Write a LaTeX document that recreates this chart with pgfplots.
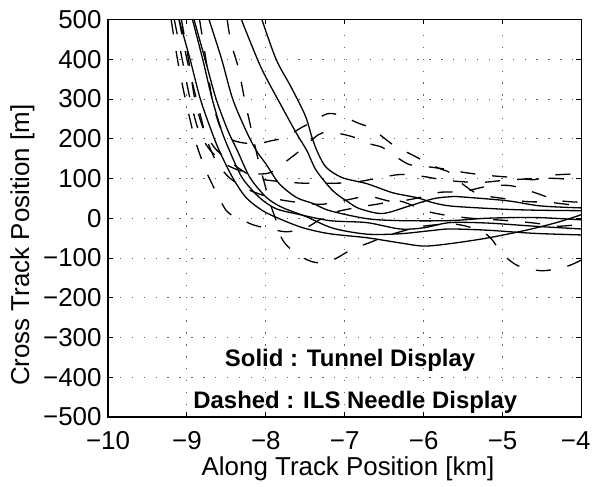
\documentclass[border=0pt]{standalone}
\usepackage{pgfplots}
\pgfplotsset{compat=1.18}
\usepackage{fontspec}
\setmainfont{Liberation Sans}
\begin{document}
\begin{tikzpicture}
\useasboundingbox (-108bp,-70bp) rectangle (484bp,417bp);
\begin{axis}[
  at={(0,0)}, anchor=south west,
  scale only axis, width=473.5bp, height=397.5bp,
  xmin=-10, xmax=-4, ymin=-500, ymax=500,
  xtick={-10,-9,-8,-7,-6,-5,-4},
  ytick={-500,-400,-300,-200,-100,0,100,200,300,400,500},
  xticklabels={−10,−9,−8,−7,−6,−5,\makebox[0pt][r]{−4\hspace{-9bp}}},
  yticklabels={−500,−400,−300,−200,−100,0,100,200,300,400,500},
  tick align=inside, major tick length=5bp,
  every tick/.style={black, line width=0.9bp},
  axis line style={line width=1.2bp},
  ticklabel style={font=\fontsize{26}{30}\selectfont},
  xticklabel style={inner sep=0pt, anchor=base, yshift=-32bp},
  yticklabel style={inner sep=0pt, anchor=east, xshift=-6.3bp},
  xlabel={Along Track Position [km]},
  ylabel={Cross Track Position [m]},
  label style={font=\fontsize{26}{30}\selectfont},
  xlabel style={at={(axis description cs:0.507,-0.148)}, anchor=base, inner sep=0pt},
  ylabel style={at={(axis description cs:-0.1668,0.432)}, anchor=base, inner sep=0pt},
  grid=major,
  grid style={black!60, line width=0.9bp, dash pattern=on 1.3bp off 10.6bp},
  solid line/.style={black, line width=1.3bp, smooth, tension=0.5},
  dashed line/.style={black, line width=1.3bp, smooth, tension=0.5, dash pattern=on 15bp off 17bp},
]
% ---- Solid : Tunnel Display ----
\addplot[solid line] coordinates {(-8.05,500)(-7.87,400)(-7.68,330)(-7.5,258)(-7.41,200)(-7.33,160)(-7.23,127)(-7.03,102)(-6.72,87)(-6.39,64)(-6.09,52)(-5.88,39)(-5.67,31)(-5.3,26)(-4.9,22)(-4.5,20)(-4,19)};
\addplot[solid line] coordinates {(-8.31,500)(-8.06,379)(-7.79,278)(-7.61,213)(-7.48,170)(-7.36,120)(-7.15,69)(-6.95,40)(-6.81,24)(-6.52,12)(-6.18,31)(-5.88,49)(-5.67,54)(-5.54,54)(-4.94,44)(-4.52,31)(-4,26)};
\addplot[solid line] coordinates {(-9.10,500)(-8.96,400)(-8.83,300)(-8.69,220)(-8.59,170)(-8.42,102)(-8.25,52)(-8.04,19)(-7.83,-1)(-7.53,-24)(-7.19,-39)(-6.72,-49)(-6.3,-62)(-6.0,-70)(-5.67,-64)(-5.2,-50)(-4.7,-30)(-4.3,-10)(-4,9)};
\addplot[solid line] coordinates {(-8.93,500)(-8.8,400)(-8.68,300)(-8.56,220)(-8.46,170)(-8.3,102)(-8.08,52)(-7.87,24)(-7.61,11)(-7.19,-6)(-6.72,-11)(-6.3,-27)(-6.0,-24)(-5.67,-11)(-5.2,-12)(-4.6,-20)(-4,-27)};
\addplot[solid line] coordinates {(-8.91,500)(-8.77,400)(-8.63,300)(-8.48,220)(-8.36,170)(-8.2,102)(-7.99,52)(-7.79,27)(-7.5,5)(-7.15,-25)(-6.72,-40)(-6.3,-39)(-5.9,-31)(-5.67,-27)(-5.2,-30)(-4.6,-38)(-4,-42)};
\addplot[solid line] coordinates {(-8.72,500)(-8.56,400)(-8.42,300)(-8.25,220)(-8.12,170)(-8.0,137)(-7.83,87)(-7.61,52)(-7.4,37)(-7.19,19)(-6.72,-1)(-6.3,-6)(-5.67,-6)(-5.2,0)(-4.6,2)(-4,-4)};
% ---- Dashed : ILS Needle Display ----
\addplot[dashed line] coordinates {(-9.2,500)(-9.12,400)(-9.02,300)(-8.9,200)(-8.78,130)(-8.69,90)(-8.5,19)(-8.31,-3)(-8.14,-18)(-7.93,-27)(-7.74,-34)(-7.5,-25)(-7.19,11)(-6.9,25)(-6.6,35)(-6.3,43)(-6.0,20)(-5.76,9)(-5.4,0)(-5.0,-5)(-4.6,-12)(-4.3,-20)(-4,-15)};
\addplot[dashed line] coordinates {(-8.84,500)(-8.76,400)(-8.68,300)(-8.58,230)(-8.45,200)(-8.3,190)(-8.1,188)(-7.93,195)(-7.76,203)(-7.55,228)(-7.42,241)(-7.22,263)(-7.04,258)(-6.85,241)(-6.66,226)(-6.49,200)(-6.34,178)(-6.15,160)(-5.98,142)(-5.8,125)(-5.67,115)(-5.5,85)(-5.3,60)(-5.0,50)(-4.7,42)(-4.4,40)(-4,30)};
\addplot[dashed line] coordinates {(-8.49,500)(-8.44,440)(-8.35,380)(-8.27,300)(-8.18,220)(-8.1,150)(-8.02,90)(-7.95,40)(-7.88,0)(-7.8,-50)(-7.7,-75)(-7.55,-97)(-7.4,-110)(-7.25,-112)(-7.1,-100)(-6.9,-77)(-6.72,-64)(-6.4,-40)(-6.0,-20)(-5.6,-15)(-5.3,-30)(-5.15,-50)(-5.0,-90)(-4.8,-120)(-4.5,-132)(-4.2,-122)(-4,-105)};
\addplot[dashed line] coordinates {(-9.16,500)(-9.06,400)(-8.96,300)(-8.85,220)(-8.7,170)(-8.5,135)(-8.25,115)(-8.0,112)(-7.85,125)(-7.73,145)(-7.6,165)(-7.4,200)(-7.28,215)(-7.07,213)(-6.87,203)(-6.68,187)(-6.52,178)(-6.33,152)(-6.18,135)(-6.0,131)(-5.67,122)(-5.48,115)(-5.2,108)(-4.9,103)(-4.6,97)(-4.4,108)(-4,112)};
\addplot[dashed line] coordinates {(-9.07,500)(-8.98,400)(-8.9,300)(-8.8,230)(-8.66,180)(-8.5,150)(-8.3,120)(-8.1,100)(-7.8,92)(-7.5,88)(-7.2,88)(-6.9,90)(-6.6,100)(-6.3,110)(-6.0,105)(-5.7,95)(-5.3,90)(-5,95)(-4.6,100)(-4.3,100)(-4,95)};
\addplot[dashed line] coordinates {(-9.1,500)(-9.0,400)(-8.88,300)(-8.75,200)(-8.62,140)(-8.45,100)(-8.2,70)(-7.9,50)(-7.6,40)(-7.3,35)(-7.0,45)(-6.7,55)(-6.39,42)(-6.1,50)(-5.8,65)(-5.5,67)(-5.2,80)(-4.9,82)(-4.6,65)(-4.3,45)(-4,40)};
% ---- annotations ----
\node[anchor=base west, inner sep=0pt, font=\fontsize{24}{28}\selectfont\bfseries] at (axis cs:-8.52,-374) {Solid : Tunnel Display};
\node[anchor=base west, inner sep=0pt, font=\fontsize{24}{28}\selectfont\bfseries] at (axis cs:-8.92,-478) {Dashed : ILS Needle Display};
\end{axis}
\end{tikzpicture}
\end{document}
